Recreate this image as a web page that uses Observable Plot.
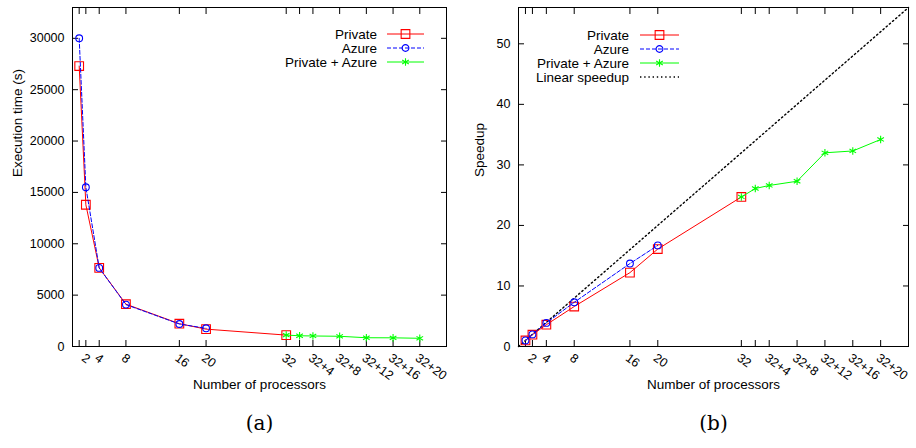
<!DOCTYPE html>
<html><head><meta charset="utf-8">
<script src="https://cdn.jsdelivr.net/npm/d3@7"></script>
<script src="https://cdn.jsdelivr.net/npm/@observablehq/plot@0.6"></script>
<style>
body{margin:0;background:#fff;}
#wrap{display:flex;width:916px;height:448px;}
</style></head>
<body><div id="wrap"></div>
<script>
// ---- data ----
const privateProcs = [1, 2, 4, 8, 16, 20, 32];
const azureProcs = [1, 2, 4, 8, 16, 20];
const hybridProcs = [32, 34, 36, 40, 44, 48, 52];
const privateTime = [27300, 13800, 7650, 4120, 2220, 1690, 1110];
const azureTime = [30000, 15500, 7650, 4080, 2190, 1770];
const hybridTime = [1110, 1045, 1025, 995, 853, 845, 798];
const privateSpeedup = [1, 1.95, 3.6, 6.6, 12.2, 16.1, 24.7];
const azureSpeedup = [1, 2, 3.9, 7.3, 13.7, 16.7];
const hybridSpeedup = [24.7, 26.1, 26.6, 27.3, 32.0, 32.3, 34.2];
const linearProcs = [0, 56];
const tickValues = [1, 2, 4, 8, 16, 20, 32, 34, 36, 40, 44, 48, 52];
const tickLabels = ["", "2", "4", "8", "16", "20", "32", "", "32+4", "32+8", "32+12", "32+16", "32+20"];
const timeTicks = [0, 5000, 10000, 15000, 20000, 25000, 30000];
const speedupTicks = [0, 10, 20, 30, 40, 50];
const seriesNames = ["Private", "Azure", "Private + Azure", "Linear speedup"];

const RED = "#ff0000", BLUE = "#0000ff", GREEN = "#00ff00";
const zip = (xs, ys) => xs.map((x, i) => ({x, y: ys[i]}));
const labelOf = new Map(tickValues.map((v, i) => [v, tickLabels[i]]));
const font = "'Liberation Sans', Arial, Helvetica, sans-serif";
const serif = "'DejaVu Serif', 'Liberation Serif', serif";

function axes(yTicks) {
  return [
    Plot.frame({stroke: "black"}),
    Plot.axisY({anchor: "left", ticks: yTicks, tickSize: -6, fill: "none", label: null}),
    Plot.axisY({anchor: "right", ticks: yTicks, tickSize: -6, fill: "none", label: null}),
    Plot.axisX({anchor: "bottom", ticks: tickValues, tickSize: -6, fill: "none", label: null}),
    Plot.axisX({anchor: "top", ticks: tickValues, tickSize: -6, fill: "none", label: null}),
    Plot.axisY({anchor: "left", ticks: yTicks, tickFormat: d => String(d), tickSize: 0, tickPadding: 8, label: null, fontSize: 12.5}),
    Plot.axisX({anchor: "bottom", ticks: tickValues.filter(v => labelOf.get(v) !== ""), tickFormat: v => labelOf.get(v),
      tickSize: 0, tickRotate: 36, textAnchor: "start", lineAnchor: "top", tickPadding: 6, label: null, fontSize: 12.5})
  ];
}
function series(data, color, symbol, r, dash) {
  return [
    Plot.line(data, {x: "x", y: "y", stroke: color, strokeWidth: 1, strokeDasharray: dash}),
    Plot.dot(data, {x: "x", y: "y", stroke: color, symbol, r, strokeWidth: 1.1, fill: "none"})
  ];
}

function legend(svg, entries, textRight, x1, x2, y0, step) {
  const g = d3.select(svg).append("g").attr("font-family", font).attr("font-size", 13.5);
  entries.forEach((e, i) => {
    const y = y0 + i * step;
    g.append("text").attr("x", textRight).attr("y", y).attr("dy", "0.35em").attr("text-anchor", "end").attr("fill", "#000").text(e.label);
    g.append("line").attr("x1", x1).attr("x2", x2).attr("y1", y).attr("y2", y).attr("stroke", e.color)
      .attr("stroke-width", e.width || 1).attr("stroke-dasharray", e.dash || null);
    if (e.symbol) {
      g.append("path").attr("transform", `translate(${(x1 + x2) / 2},${y})`)
        .attr("d", d3.symbol(e.symbol, Math.PI * e.r * e.r)()).attr("fill", "none").attr("stroke", e.color).attr("stroke-width", 1.1);
    }
  });
}

function panel(opts) {
  return Plot.plot({
    width: 458, height: 448,
    marginLeft: opts.marginLeft, marginRight: opts.marginRight, marginTop: 7, marginBottom: 102,
    style: {fontFamily: font, fontSize: "12.5px", color: "#000", background: "white", overflow: "visible"},
    x: {domain: [0, 56]},
    y: {domain: opts.yDomain},
    marks: [
      ...axes(opts.yTicks),
      ...opts.marks,
      Plot.text([opts.yLabel], {frameAnchor: "left", rotate: -90, dx: opts.yLabelDx, fontSize: 13.5}),
      Plot.text(["Number of processors"], {frameAnchor: "bottom", dy: 42, fontSize: 13.5}),
      Plot.text([opts.tag], {frameAnchor: "bottom", dy: 83, fontSize: 20, fontFamily: serif})
    ]
  });
}

const left = panel({
  marginLeft: 72, marginRight: 12, yDomain: [0, 33000], yTicks: timeTicks,
  yLabel: "Execution time (s)", yLabelDx: -55, tag: "(a)",
  marks: [
    ...series(zip(privateProcs, privateTime), RED, "square", 4.9),
    ...series(zip(azureProcs, azureTime), BLUE, "circle", 3.4, "4,2"),
    ...series(zip(hybridProcs, hybridTime), GREEN, "asterisk", 3.6)
  ]
});

const right = panel({
  marginLeft: 60, marginRight: 8, yDomain: [0, 56], yTicks: speedupTicks,
  yLabel: "Speedup", yLabelDx: -39, tag: "(b)",
  marks: [
    Plot.line(zip(linearProcs, linearProcs), {x: "x", y: "y", stroke: "black", strokeWidth: 1.4, strokeDasharray: "1.4,2.8"}),
    ...series(zip(privateProcs, privateSpeedup), RED, "square", 4.9),
    ...series(zip(azureProcs, azureSpeedup), BLUE, "circle", 3.4, "4,2"),
    ...series(zip(hybridProcs, hybridSpeedup), GREEN, "asterisk", 3.6)
  ]
});

const legendEntries = [
  {label: seriesNames[0], color: RED, symbol: d3.symbolSquare, r: 4.9},
  {label: seriesNames[1], color: BLUE, symbol: d3.symbolCircle, r: 3.4, dash: "4,2"},
  {label: seriesNames[2], color: GREEN, symbol: d3.symbolAsterisk, r: 3.6},
  {label: seriesNames[3], color: "black", dash: "1.4,2.8", width: 1.4}
];
legend(left, legendEntries.slice(0, 3), 377, 387, 424, 34, 14);
legend(right, legendEntries, 171, 182, 221, 35, 14);

document.getElementById("wrap").append(left, right);
</script></body></html>
